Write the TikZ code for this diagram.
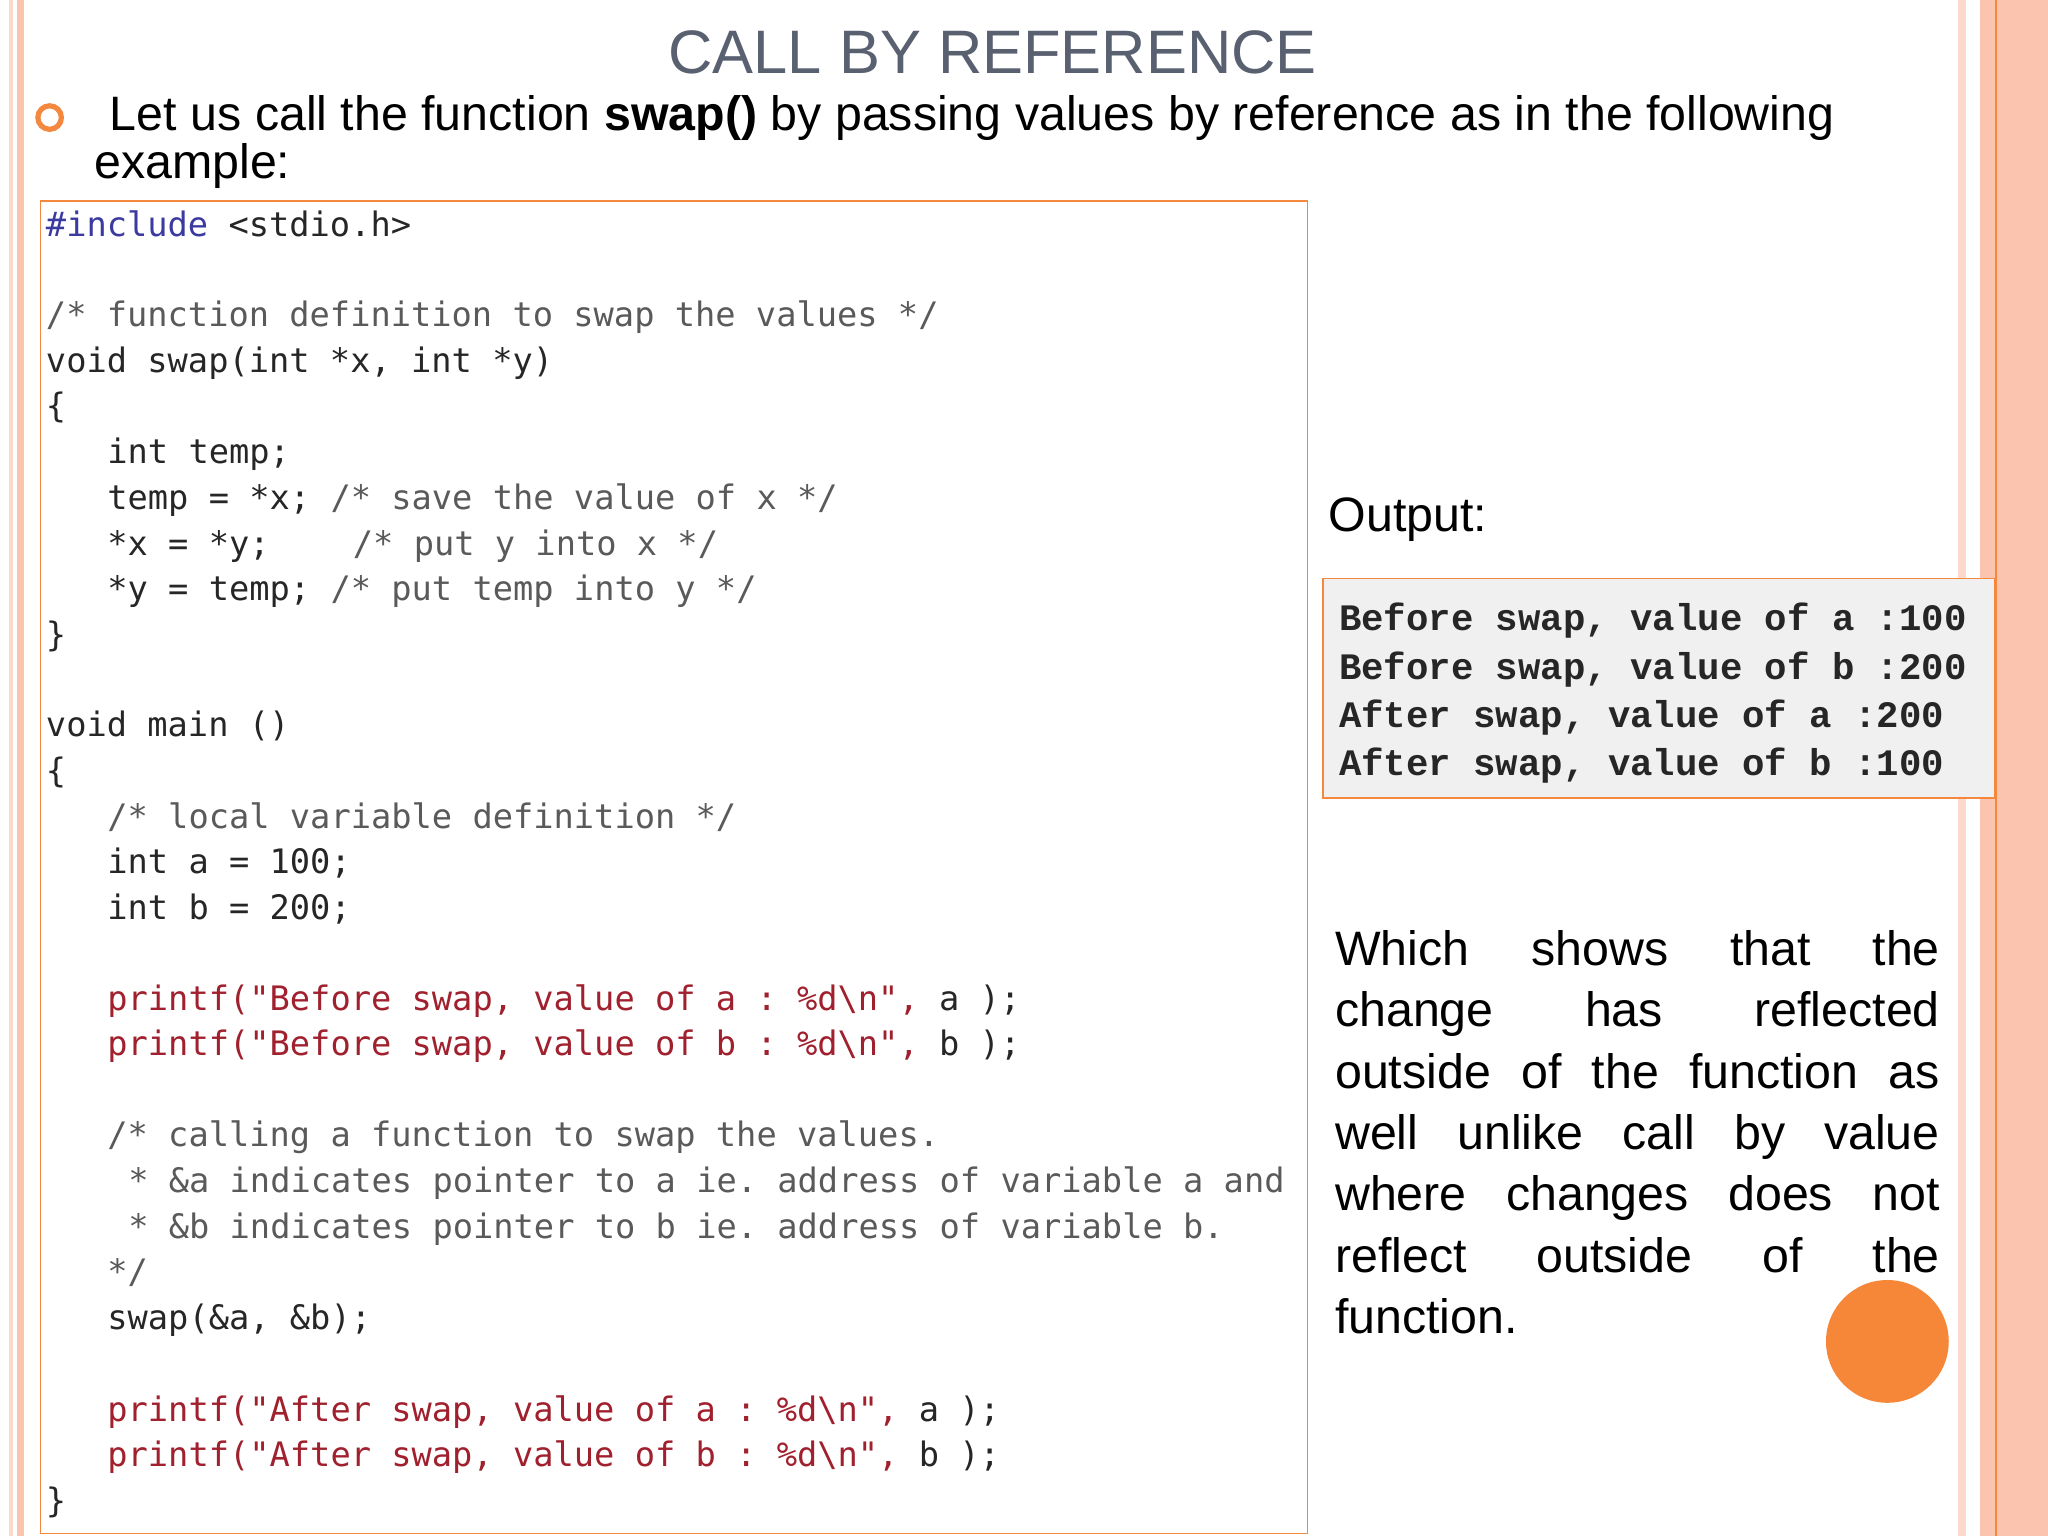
\documentclass[tikz,border=0pt]{standalone}
\usepackage{fontspec}
\setmainfont{Liberation Sans}
\setmonofont{DejaVu Sans Mono}
\newfontfamily\outfont{Liberation Mono}
\definecolor{stripe}{HTML}{FBC4AE}
\definecolor{pale}{HTML}{FDD9CB}
\definecolor{org}{HTML}{F5883F}
\definecolor{ttl}{HTML}{596070}
\definecolor{cm}{HTML}{5A5A5A}
\definecolor{pr}{HTML}{A0202E}
\definecolor{inc}{HTML}{3A3AA0}
\newcommand{\jl}[1]{\makebox[463pt]{#1}\\}
\begin{document}
\begin{tikzpicture}[x=1pt,y=-1pt,
  cl/.style={anchor=base west,inner sep=0pt,font=\fontsize{25.8}{30}\ttfamily},
  ol/.style={anchor=base west,inner sep=0pt,font=\fontsize{28.6}{32}\outfont\bfseries,text=black!85},
  big/.style={inner sep=0pt,font=\fontsize{37}{47}\selectfont}]
\useasboundingbox (0,0) rectangle (1568,1176);
\fill[white] (0,0) rectangle (1568,1176);
% stripes
\fill[pale] (7,0) rectangle (10,1176);
\fill[stripe] (13,0) rectangle (18,1176);
\fill[pale] (1499,0) rectangle (1505,1176);
\fill[stripe] (1516,0) rectangle (1568,1176);
\draw[org,line width=1.2] (1528,0) -- (1528,1176);
% title
\node[inner sep=0pt,font=\fontsize{47}{50}\selectfont,text=ttl] (title) at (760,40) {CALL BY REFERENCE};
\draw[org,line width=4] (38,90) circle (9);
\node[big,anchor=base west] (b1) at (84,100) {Let us call the function \textbf{swap()} by passing values by reference as in the following};
\node[big,anchor=base west] (b2) at (72,137) {example:};
% code box
\draw[org,line width=1.2] (31,154) rectangle (1001,1174);
\node[cl,text=inc] (c1) at (35,181) {\#include {\color{black!85}<stdio.h>}};
\begin{scope}[text=black!85]
\node[cl,text=cm] (c2) at (35,250) {/* function definition to swap the values */};
\node[cl] (c3) at (35,285) {void swap(int *x, int *y)};
\node[cl] (c4) at (35,320) {\{};
\node[cl] (c5) at (82,355) {int temp;};
\node[cl] (c6) at (82,390) {temp = *x; {\color{cm}/* save the value of x */}};
\node[cl] (c7) at (82,425) {*x = *y;};
\node[cl,text=cm] (c7b) at (270,425) {/* put y into x */};
\node[cl] (c8) at (82,460) {*y = temp; {\color{cm}/* put temp into y */}};
\node[cl] (c9) at (35,495) {\}};
\node[cl] (c10) at (35,564) {void main ()};
\node[cl] (c11) at (35,599) {\{};
\node[cl,text=cm] (c12) at (82,634) {/* local variable definition */};
\node[cl] (c13) at (82,669) {int a = 100;};
\node[cl] (c14) at (82,704) {int b = 200;};
\node[cl,text=pr] (c15) at (82,774) {printf("Before swap, value of a : \%d\textbackslash n", {\color{black!85}a );}};
\node[cl,text=pr] (c16) at (82,808) {printf("Before swap, value of b : \%d\textbackslash n", {\color{black!85}b );}};
\node[cl,text=cm] (c17) at (82,878) {/* calling a function to swap the values.};
\node[cl,text=cm] (c18) at (98,913) {* \&a indicates pointer to a ie. address of variable a and};
\node[cl,text=cm] (c19) at (98,948) {* \&b indicates pointer to b ie. address of variable b.};
\node[cl,text=cm] (c20) at (82,983) {*/};
\node[cl] (c21) at (82,1018) {swap(\&a, \&b);};
\node[cl,text=pr] (c22) at (82,1088) {printf("After swap, value of a : \%d\textbackslash n", {\color{black!85}a );}};
\node[cl,text=pr] (c23) at (82,1123) {printf("After swap, value of b : \%d\textbackslash n", {\color{black!85}b );}};
\node[cl] (c24) at (35,1158) {\}};
\end{scope}
% output
\node[big,anchor=base west] (outl) at (1017,407) {Output:};
\draw[org,line width=1.2,fill=black!6] (1013,443) rectangle (1527,611);
\node[ol] (o1) at (1025,483) {Before swap, value of a :100};
\node[ol] (o2) at (1025,520) {Before swap, value of b :200};
\node[ol] (o3) at (1025,557) {After swap, value of a :200};
\node[ol] (o4) at (1025,594) {After swap, value of b :100};
\node[big,anchor=base west,text width=463,align=left] (para) at (1022,739)
 {\jl{Which\hfill shows\hfill that\hfill the}\jl{change\hfill has\hfill reflected}\jl{outside\hfill of\hfill the\hfill function\hfill as}\jl{well\hfill unlike\hfill call\hfill by\hfill value}\jl{where\hfill changes\hfill does\hfill not}\jl{reflect\hfill outside\hfill of\hfill the}function.};
\fill[org!90!orange] (1445,1027) circle (47);
\end{tikzpicture}
\end{document}
